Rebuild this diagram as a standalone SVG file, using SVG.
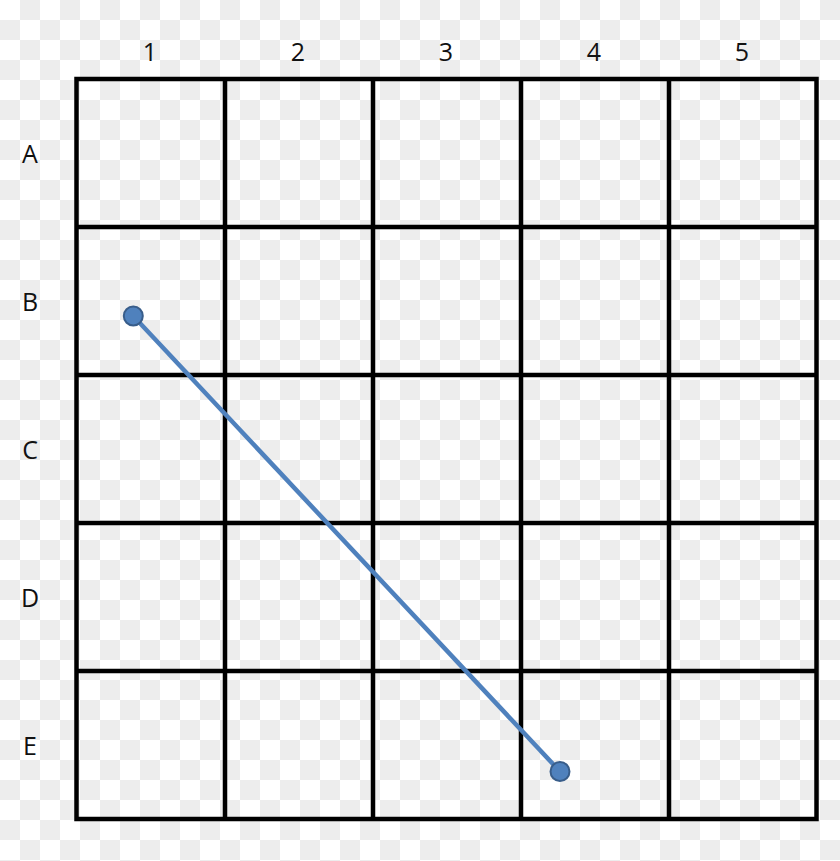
<svg xmlns="http://www.w3.org/2000/svg" width="840" height="861" viewBox="0 0 840 861">
<defs>
<pattern id="checker" x="0" y="0" width="40" height="40" patternUnits="userSpaceOnUse">
<rect x="0" y="0" width="40" height="40" fill="#ffffff"/>
<rect x="20" y="0" width="20" height="20" fill="#ededed"/>
<rect x="0" y="20" width="20" height="20" fill="#ededed"/>
</pattern>
<style>
.grid line, .grid rect { stroke: #000000; stroke-width: 4.5; fill: none; }
.lbl { font-family: "Open Sans", "Liberation Sans", sans-serif; font-size: 25px; fill: #111111; text-anchor: middle; }
.pt { fill: #4F81BD; stroke: #385D8A; stroke-width: 2; }
.conn { stroke: #4F81BD; stroke-width: 4.5; fill: none; }
</style>
</defs>
<rect x="0" y="0" width="840" height="861" fill="url(#checker)"/>
<g id="grid" class="grid">
<rect x="76.5" y="79" width="740" height="740" fill="#ffffff" style="fill:#ffffff;fill-opacity:0"/>
<line x1="225" y1="79" x2="225" y2="819"/>
<line x1="373" y1="79" x2="373" y2="819"/>
<line x1="521" y1="79" x2="521" y2="819"/>
<line x1="669" y1="79" x2="669" y2="819"/>
<line x1="76.5" y1="227" x2="816.5" y2="227"/>
<line x1="76.5" y1="375" x2="816.5" y2="375"/>
<line x1="76.5" y1="523" x2="816.5" y2="523"/>
<line x1="76.5" y1="671" x2="816.5" y2="671"/>
</g>
<g id="col-labels">
<text class="lbl" x="150" y="61">1</text>
<text class="lbl" x="298" y="61">2</text>
<text class="lbl" x="446" y="61">3</text>
<text class="lbl" x="594" y="61">4</text>
<text class="lbl" x="742" y="61">5</text>
</g>
<g id="row-labels">
<text class="lbl" x="30" y="162.5">A</text>
<text class="lbl" x="30" y="310.5">B</text>
<text class="lbl" x="30" y="458.5">C</text>
<text class="lbl" x="30" y="606.5">D</text>
<text class="lbl" x="30" y="754.5">E</text>
</g>
<g id="connectors">
<line class="conn" x1="133.3" y1="316" x2="560" y2="771.5"/>
</g>
<g id="point-B1">
<circle class="pt" cx="133.3" cy="316" r="9.5"/>
</g>
<g id="point-E4">
<circle class="pt" cx="560" cy="771.5" r="9.5"/>
</g>
</svg>
